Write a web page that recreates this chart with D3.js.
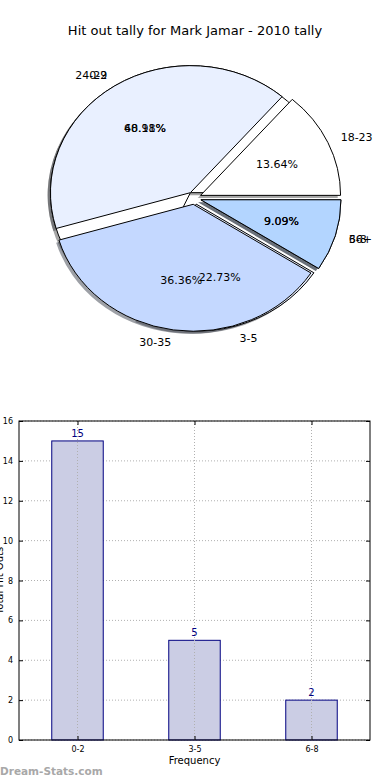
<!DOCTYPE html>
<html>
<head>
<meta charset="utf-8">
<script src="https://cdn.jsdelivr.net/npm/d3@7/dist/d3.min.js"></script>
<style>
  body { margin: 0; background: #fff; }
  text { font-family: "DejaVu Sans", sans-serif; }
</style>
</head>
<body>
<div id="chart"></div>
<script>
// data
var title = 'Hit out tally for Mark Jamar - 2010 tally';
var ageLabels = ['18-23', '24-29', '30-35', '36+'];
var ageCounts = [3, 9, 8, 2];
var freqLabels = ['0-2', '3-5', '6-8'];
var freqCounts = [15, 5, 2];
var sliceColors = ['#ffffff', '#e9f0ff', '#c4d8ff', '#b3d5ff'];
var yTicks = [0, 2, 4, 6, 8, 10, 12, 14, 16];

var width = 390, height = 780;

var svg = d3.select('#chart').append('svg')
  .attr('width', width)
  .attr('height', height);

svg.append('text')
  .attr('x', 195).attr('y', 35)
  .attr('text-anchor', 'middle')
  .style('font-size', '13px')
  .text(title);

// ---- pie (two pies drawn on the same axes, like the original) ----
var cx = 194.2, cy = 198, rx = 140, ry = 127, explode = 0.05;

var pie = d3.pie().sort(null)
  .startAngle(Math.PI / 2)
  .endAngle(Math.PI / 2 - 2 * Math.PI);

var unitArc = d3.arc().innerRadius(0).outerRadius(1);

function slices(labels, counts) {
  var total = d3.sum(counts);
  return pie(counts).map(function (d, i) {
    var mid = (d.startAngle + d.endAngle) / 2;
    var sx = Math.sin(mid), sy = -Math.cos(mid);
    return {
      arc: d, label: labels[i], color: sliceColors[i],
      pct: (counts[i] / total * 100).toFixed(2) + '%',
      ax: cx + explode * rx * sx, ay: cy + explode * ry * sy,
      sx: sx, sy: sy
    };
  });
}

var freqSlices = slices(freqLabels, freqCounts);
var ageSlices = slices(ageLabels, ageCounts);
var all = freqSlices.concat(ageSlices);

var pieG = svg.append('g');

// shadows first (below every wedge)
pieG.selectAll('path.shadow')
  .data(all).enter().append('path')
  .attr('class', 'shadow')
  .attr('d', function (d) { return unitArc(d.arc); })
  .attr('transform', function (d) {
    return 'translate(' + (d.ax - 0.02 * rx) + ',' + (d.ay + 0.02 * ry) + ') scale(' + rx + ',' + ry + ')';
  })
  .style('fill', function (d) {
    var c = d3.rgb(d.color);
    return 'rgb(' + [c.r * 0.3, c.g * 0.3, c.b * 0.3].join(',') + ')';
  })
  .style('fill-opacity', 0.5)
  .style('stroke', 'none');

pieG.selectAll('path.wedge')
  .data(all).enter().append('path')
  .attr('class', 'wedge')
  .attr('d', function (d) { return unitArc(d.arc); })
  .attr('transform', function (d) {
    return 'translate(' + d.ax + ',' + d.ay + ') scale(' + rx + ',' + ry + ')';
  })
  .attr('vector-effect', 'non-scaling-stroke')
  .style('fill', function (d) { return d.color; })
  .style('stroke', '#000')
  .style('stroke-width', 1);

pieG.selectAll('text.lbl')
  .data(all).enter().append('text')
  .attr('class', 'lbl')
  .attr('x', function (d) { return d.ax + 1.1 * rx * d.sx; })
  .attr('y', function (d) { return d.ay + 1.1 * ry * d.sy; })
  .attr('text-anchor', function (d) { return d.sx > 0 ? 'start' : 'end'; })
  .attr('dy', '0.35em')
  .style('font-size', '11px')
  .text(function (d) { return d.label; });

pieG.selectAll('text.pct')
  .data(all).enter().append('text')
  .attr('class', 'pct')
  .attr('x', function (d) { return d.ax + 0.6 * rx * d.sx; })
  .attr('y', function (d) { return d.ay + 0.6 * ry * d.sy; })
  .attr('text-anchor', 'middle')
  .attr('dy', '0.35em')
  .style('font-size', '11px')
  .text(function (d) { return d.pct; });

// ---- bar chart ----
var plotL = 19, plotR = 370, plotT = 421, plotB = 740;

var x = d3.scaleLinear().domain([-0.5, freqLabels.length - 0.5]).range([plotL, plotR]);
var y = d3.scaleLinear().domain([0, 16]).range([plotB, plotT]);
var barW = 0.44;

var barG = svg.append('g');

// horizontal grid
barG.selectAll('line.hgrid')
  .data(yTicks).enter().append('line')
  .attr('x1', plotL).attr('x2', plotR)
  .attr('y1', function (d) { return y(d); })
  .attr('y2', function (d) { return y(d); })
  .style('stroke', '#b0b0b0')
  .style('stroke-dasharray', '1,2');

barG.selectAll('rect.bar')
  .data(freqCounts).enter().append('rect')
  .attr('x', function (d, i) { return x(i - barW / 2); })
  .attr('y', function (d) { return y(d); })
  .attr('width', function (d, i) { return x(i + barW / 2) - x(i - barW / 2); })
  .attr('height', function (d) { return y(0) - y(d); })
  .style('fill', '#cbcde4')
  .style('stroke', '#000080')
  .style('stroke-width', 1);

// vertical grid (over the bars)
barG.selectAll('line.vgrid')
  .data(freqLabels).enter().append('line')
  .attr('x1', function (d, i) { return x(i); })
  .attr('x2', function (d, i) { return x(i); })
  .attr('y1', plotT).attr('y2', plotB)
  .style('stroke', '#b0b0b0')
  .style('stroke-dasharray', '1,2');

barG.selectAll('text.val')
  .data(freqCounts).enter().append('text')
  .attr('x', function (d, i) { return x(i); })
  .attr('y', function (d) { return y(d) - 4; })
  .attr('text-anchor', 'middle')
  .style('font-size', '10px')
  .style('fill', '#000080')
  .text(function (d) { return d; });

// axes
var yAxis = d3.axisLeft(y).tickValues(yTicks).tickSize(-4).tickPadding(6);
barG.append('g').attr('transform', 'translate(' + plotL + ',0)').call(yAxis)
  .call(function (g) { g.select('.domain').remove(); })
  .selectAll('text').style('font-size', '8px').style('font-family', 'DejaVu Sans, sans-serif');

var yAxisR = d3.axisRight(y).tickValues(yTicks).tickSize(-4).tickFormat('');
barG.append('g').attr('transform', 'translate(' + plotR + ',0)').call(yAxisR)
  .call(function (g) { g.select('.domain').remove(); });

var xAxis = d3.axisBottom(x).tickValues(d3.range(freqLabels.length))
  .tickFormat(function (i) { return freqLabels[i]; })
  .tickSize(-4).tickPadding(6);
barG.append('g').attr('transform', 'translate(0,' + plotB + ')').call(xAxis)
  .call(function (g) { g.select('.domain').remove(); })
  .selectAll('text').style('font-size', '8px').style('font-family', 'DejaVu Sans, sans-serif');

var xAxisT = d3.axisTop(x).tickValues(d3.range(freqLabels.length)).tickSize(-4).tickFormat('');
barG.append('g').attr('transform', 'translate(0,' + plotT + ')').call(xAxisT)
  .call(function (g) { g.select('.domain').remove(); });

barG.append('rect')
  .attr('x', plotL).attr('y', plotT)
  .attr('width', plotR - plotL).attr('height', plotB - plotT)
  .style('fill', 'none').style('stroke', '#000').style('stroke-width', 1);

svg.append('text')
  .attr('x', (plotL + plotR) / 2).attr('y', 764)
  .attr('text-anchor', 'middle')
  .style('font-size', '10px')
  .text('Frequency');

svg.append('text')
  .attr('transform', 'translate(3,' + ((plotT + plotB) / 2) + ') rotate(-90)')
  .attr('text-anchor', 'middle')
  .style('font-size', '10px')
  .text('Total Hit Outs');

svg.append('text')
  .attr('x', 0).attr('y', 775)
  .style('font-size', '10.5px')
  .style('font-weight', 'bold')
  .style('fill', '#a8a8a8')
  .text('Dream-Stats.com');
</script>
</body>
</html>
